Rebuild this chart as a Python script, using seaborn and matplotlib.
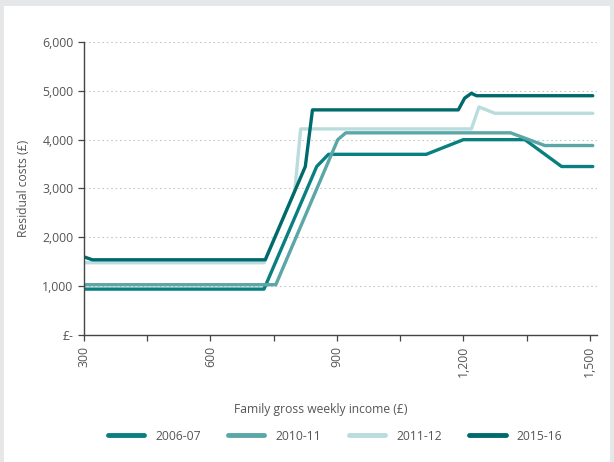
import matplotlib
matplotlib.use("Agg")
import matplotlib.pyplot as plt
import matplotlib.patches as mpatches
from matplotlib.ticker import FixedLocator, FuncFormatter
import seaborn as sns
import pandas as pd

# data (income £/week, residual cost £)
inc_0607 = [300, 727, 852, 880, 1112, 1200, 1346, 1433, 1507]
val_0607 = [940, 940, 3450, 3700, 3700, 4000, 4000, 3450, 3450]

inc_1011 = [300, 755, 902, 921, 1312, 1393, 1507]
val_1011 = [1030, 1030, 4000, 4140, 4140, 3880, 3880]

inc_1112 = [300, 727, 800, 814, 1219, 1237, 1275, 1507]
val_1112 = [1480, 1480, 2950, 4220, 4220, 4670, 4540, 4540]

inc_1516 = [300, 320, 730, 825, 842, 1188, 1203, 1219, 1231, 1507]
val_1516 = [1600, 1540, 1540, 3450, 4610, 4610, 4850, 4950, 4900, 4900]

series = ["2006-07", "2010-11", "2011-12", "2015-16"]
colors = ["#0a7f80", "#5ba6a6", "#b9dcdc", "#006a6b"]

x_ticks = [300, 600, 900, 1200, 1500]
y_ticks = [0, 1000, 2000, 3000, 4000, 5000, 6000]

frames = []
for name, xs, ys in zip(series,
                        [inc_0607, inc_1011, inc_1112, inc_1516],
                        [val_0607, val_1011, val_1112, val_1516]):
    frames.append(pd.DataFrame({"income": xs, "cost": ys, "year": name}))
df = pd.concat(frames, ignore_index=True)

sns.set_style("white")
plt.rcParams["font.family"] = ["Open Sans", "DejaVu Sans"]

fig = plt.figure(figsize=(6.14, 4.62), dpi=100)
fig.patch.set_facecolor("#e6e7e8")
panel = mpatches.Rectangle((4 / 614, 0), 606 / 614, 456 / 462,
                           transform=fig.transFigure,
                           facecolor="white", edgecolor="none", zorder=-10)
fig.add_artist(panel)

ax = fig.add_axes([84 / 614, 127 / 462, 513 / 614, 293 / 462])
ax.set_facecolor("none")

sns.lineplot(data=df, x="income", y="cost", hue="year",
             palette=dict(zip(series, colors)), estimator=None, sort=False,
             linewidth=2.4, ax=ax, legend=False)

ax.set_xlim(300, 1517)
ax.set_ylim(0, 6000)
ax.xaxis.set_major_locator(FixedLocator(x_ticks))
ax.xaxis.set_minor_locator(FixedLocator([450, 750, 1050, 1350]))
ax.yaxis.set_major_locator(FixedLocator(y_ticks))
ax.xaxis.set_major_formatter(FuncFormatter(lambda v, p: f"{int(v):,}"))
ax.yaxis.set_major_formatter(
    FuncFormatter(lambda v, p: "£-" if v == 0 else f"{int(v):,}"))

for lab in ax.get_xticklabels():
    lab.set_rotation(90)
ax.tick_params(axis="both", which="both", direction="out", length=4,
               width=0.9, color="#444444", labelsize=8.8, labelcolor="#555555",
               bottom=True, left=True)
ax.tick_params(axis="x", pad=4)

ax.grid(axis="y", linestyle=(0, (1.5, 2.5)), color="#c8c8c8", linewidth=0.8)
ax.grid(axis="x", visible=False)
for s in ["top", "right"]:
    ax.spines[s].set_visible(False)
for s in ["left", "bottom"]:
    ax.spines[s].set_color("#444444")
    ax.spines[s].set_linewidth(1.0)

ax.set_ylabel("Residual costs (£)", fontsize=8.7, color="#555555", labelpad=9)
ax.set_xlabel("")
fig.text(321 / 614, 1 - 410 / 462, "Family gross weekly income (£)",
         ha="center", va="center", fontsize=8.7, color="#555555")

handles = [plt.Line2D([0], [0], color=c, linewidth=3.5, solid_capstyle="round")
           for c in colors]
fig.legend(handles, series, loc="center", bbox_to_anchor=(335 / 614, 1 - 436 / 462),
           ncol=4, frameon=False, fontsize=8.7, handlelength=3.0,
           columnspacing=2.3, handletextpad=0.9, labelcolor="#555555")

fig.savefig("out.png", dpi=100)
